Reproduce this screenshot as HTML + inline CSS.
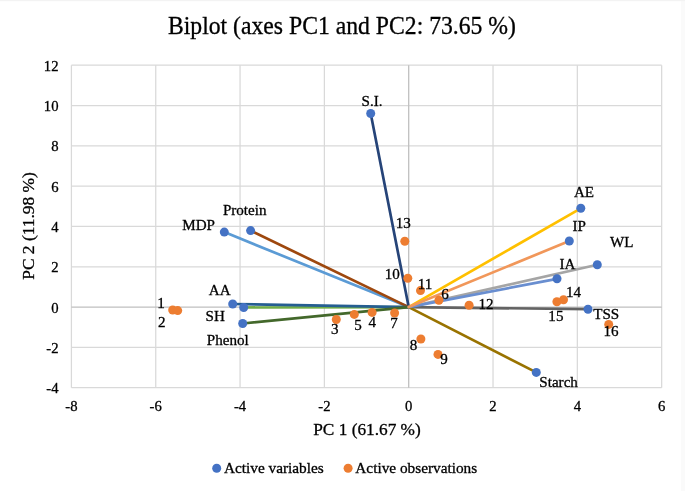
<!DOCTYPE html>
<html><head><meta charset="utf-8"><style>
html,body{margin:0;padding:0;background:#fff;}
body{width:685px;height:491px;overflow:hidden;}
svg{display:block;will-change:transform;}
text{font-family:"Liberation Serif",serif;fill:#000;stroke:#000;stroke-width:0.3px;}
</style></head><body>
<svg width="685" height="491" viewBox="0 0 685 491">

<g stroke="#d9d9d9" stroke-width="1.25"><line x1="71.42" y1="65.18" x2="71.42" y2="387.74"/><line x1="155.74" y1="65.18" x2="155.74" y2="387.74"/><line x1="240.06" y1="65.18" x2="240.06" y2="387.74"/><line x1="324.38" y1="65.18" x2="324.38" y2="387.74"/><line x1="493.02" y1="65.18" x2="493.02" y2="387.74"/><line x1="577.34" y1="65.18" x2="577.34" y2="387.74"/><line x1="661.66" y1="65.18" x2="661.66" y2="387.74"/><line x1="71.42" y1="65.18" x2="661.66" y2="65.18"/><line x1="71.42" y1="105.50" x2="661.66" y2="105.50"/><line x1="71.42" y1="145.82" x2="661.66" y2="145.82"/><line x1="71.42" y1="186.14" x2="661.66" y2="186.14"/><line x1="71.42" y1="226.46" x2="661.66" y2="226.46"/><line x1="71.42" y1="266.78" x2="661.66" y2="266.78"/><line x1="71.42" y1="347.42" x2="661.66" y2="347.42"/><line x1="71.42" y1="387.74" x2="661.66" y2="387.74"/></g>
<g stroke="#bfbfbf" stroke-width="1.3"><line x1="408.70" y1="65.18" x2="408.70" y2="387.74"/><line x1="71.42" y1="307.10" x2="661.66" y2="307.10"/></g>
<line x1="408.7" y1="307.1" x2="597.3" y2="264.7" stroke="#A5A5A5" stroke-width="2.7" stroke-linecap="round"/>
<line x1="408.7" y1="307.1" x2="580.8" y2="208.3" stroke="#FFC000" stroke-width="2.7" stroke-linecap="round"/>
<line x1="408.7" y1="307.1" x2="224.3" y2="232.1" stroke="#5B9BD5" stroke-width="2.7" stroke-linecap="round"/>
<line x1="408.7" y1="307.1" x2="243.7" y2="307.5" stroke="#70AD47" stroke-width="2.7" stroke-linecap="round"/>
<line x1="408.7" y1="307.1" x2="370.7" y2="113.5" stroke="#264478" stroke-width="2.7" stroke-linecap="round"/>
<line x1="408.7" y1="307.1" x2="250.6" y2="230.6" stroke="#9E480E" stroke-width="2.7" stroke-linecap="round"/>
<line x1="408.7" y1="307.1" x2="588.0" y2="309.2" stroke="#636363" stroke-width="2.7" stroke-linecap="round"/>
<line x1="408.7" y1="307.1" x2="536.3" y2="372.4" stroke="#997300" stroke-width="2.7" stroke-linecap="round"/>
<line x1="408.7" y1="307.1" x2="232.7" y2="304.0" stroke="#255E91" stroke-width="2.7" stroke-linecap="round"/>
<line x1="408.7" y1="307.1" x2="242.7" y2="323.5" stroke="#43682B" stroke-width="2.7" stroke-linecap="round"/>
<line x1="408.7" y1="307.1" x2="557.0" y2="278.8" stroke="#698ED0" stroke-width="2.7" stroke-linecap="round"/>
<line x1="408.7" y1="307.1" x2="569.3" y2="241.0" stroke="#F1975A" stroke-width="2.7" stroke-linecap="round"/>
<circle cx="172.7" cy="310.0" r="4.5" fill="#ED7D31"/>
<circle cx="177.7" cy="310.6" r="4.5" fill="#ED7D31"/>
<circle cx="336.3" cy="319.5" r="4.5" fill="#ED7D31"/>
<circle cx="372.1" cy="312.4" r="4.5" fill="#ED7D31"/>
<circle cx="354.3" cy="314.4" r="4.5" fill="#ED7D31"/>
<circle cx="438.9" cy="300.2" r="4.5" fill="#ED7D31"/>
<circle cx="394.6" cy="313.0" r="4.5" fill="#ED7D31"/>
<circle cx="420.9" cy="339.0" r="4.5" fill="#ED7D31"/>
<circle cx="438.0" cy="354.4" r="4.5" fill="#ED7D31"/>
<circle cx="407.8" cy="278.3" r="4.5" fill="#ED7D31"/>
<circle cx="420.5" cy="290.6" r="4.5" fill="#ED7D31"/>
<circle cx="469.1" cy="305.2" r="4.5" fill="#ED7D31"/>
<circle cx="404.8" cy="241.3" r="4.5" fill="#ED7D31"/>
<circle cx="563.5" cy="299.8" r="4.5" fill="#ED7D31"/>
<circle cx="556.9" cy="301.8" r="4.5" fill="#ED7D31"/>
<circle cx="608.7" cy="324.4" r="4.5" fill="#ED7D31"/>
<circle cx="597.3" cy="264.7" r="4.5" fill="#4472C4"/>
<circle cx="580.8" cy="208.3" r="4.5" fill="#4472C4"/>
<circle cx="224.3" cy="232.1" r="4.5" fill="#4472C4"/>
<circle cx="243.7" cy="307.5" r="4.5" fill="#4472C4"/>
<circle cx="370.7" cy="113.5" r="4.5" fill="#4472C4"/>
<circle cx="250.6" cy="230.6" r="4.5" fill="#4472C4"/>
<circle cx="588.0" cy="309.2" r="4.5" fill="#4472C4"/>
<circle cx="536.3" cy="372.4" r="4.5" fill="#4472C4"/>
<circle cx="232.7" cy="304.0" r="4.5" fill="#4472C4"/>
<circle cx="242.7" cy="323.5" r="4.5" fill="#4472C4"/>
<circle cx="557.0" cy="278.8" r="4.5" fill="#4472C4"/>
<circle cx="569.3" cy="241.0" r="4.5" fill="#4472C4"/>
<text x="372.0" y="105.5" font-size="15.1" text-anchor="middle">S.I.</text>
<text x="198.6" y="230.0" font-size="15.1" text-anchor="middle">MDP</text>
<text x="244.7" y="214.6" font-size="15.1" text-anchor="middle">Protein</text>
<text x="219.7" y="294.8" font-size="15.1" text-anchor="middle">AA</text>
<text x="215.2" y="320.6" font-size="15.1" text-anchor="middle">SH</text>
<text x="227.8" y="344.8" font-size="15.1" text-anchor="middle">Phenol</text>
<text x="584.0" y="197.2" font-size="15.1" text-anchor="middle">AE</text>
<text x="579.1" y="231.0" font-size="15.1" text-anchor="middle">IP</text>
<text x="621.8" y="247.1" font-size="15.1" text-anchor="middle">WL</text>
<text x="567.5" y="269.2" font-size="15.1" text-anchor="middle">IA</text>
<text x="606.2" y="319.0" font-size="15.1" text-anchor="middle">TSS</text>
<text x="558.6" y="387.2" font-size="15.1" text-anchor="middle">Starch</text>
<text x="161.1" y="307.9" font-size="15.1" text-anchor="middle">1</text>
<text x="161.8" y="326.9" font-size="15.1" text-anchor="middle">2</text>
<text x="334.8" y="333.7" font-size="15.1" text-anchor="middle">3</text>
<text x="372.2" y="327.0" font-size="15.1" text-anchor="middle">4</text>
<text x="357.9" y="329.6" font-size="15.1" text-anchor="middle">5</text>
<text x="445.1" y="298.7" font-size="15.1" text-anchor="middle">6</text>
<text x="393.9" y="327.6" font-size="15.1" text-anchor="middle">7</text>
<text x="413.6" y="350.1" font-size="15.1" text-anchor="middle">8</text>
<text x="444.1" y="364.1" font-size="15.1" text-anchor="middle">9</text>
<text x="392.2" y="279.1" font-size="15.1" text-anchor="middle">10</text>
<text x="425.1" y="289.3" font-size="15.1" text-anchor="middle">11</text>
<text x="486.0" y="308.8" font-size="15.1" text-anchor="middle">12</text>
<text x="403.3" y="227.8" font-size="15.1" text-anchor="middle">13</text>
<text x="573.6" y="296.7" font-size="15.1" text-anchor="middle">14</text>
<text x="555.9" y="320.8" font-size="15.1" text-anchor="middle">15</text>
<text x="611.0" y="335.5" font-size="15.1" text-anchor="middle">16</text>
<text x="58.5" y="70.6" font-size="14.7" text-anchor="end">12</text>
<text x="58.5" y="110.9" font-size="14.7" text-anchor="end">10</text>
<text x="58.5" y="151.2" font-size="14.7" text-anchor="end">8</text>
<text x="58.5" y="191.5" font-size="14.7" text-anchor="end">6</text>
<text x="58.5" y="231.9" font-size="14.7" text-anchor="end">4</text>
<text x="58.5" y="272.2" font-size="14.7" text-anchor="end">2</text>
<text x="58.5" y="312.5" font-size="14.7" text-anchor="end">0</text>
<text x="58.5" y="352.8" font-size="14.7" text-anchor="end">-2</text>
<text x="58.5" y="393.1" font-size="14.7" text-anchor="end">-4</text>
<text x="71.4" y="411.4" font-size="14.7" text-anchor="middle">-8</text>
<text x="155.7" y="411.4" font-size="14.7" text-anchor="middle">-6</text>
<text x="240.1" y="411.4" font-size="14.7" text-anchor="middle">-4</text>
<text x="324.4" y="411.4" font-size="14.7" text-anchor="middle">-2</text>
<text x="408.7" y="411.4" font-size="14.7" text-anchor="middle">0</text>
<text x="493.0" y="411.4" font-size="14.7" text-anchor="middle">2</text>
<text x="577.3" y="411.4" font-size="14.7" text-anchor="middle">4</text>
<text x="661.7" y="411.4" font-size="14.7" text-anchor="middle">6</text>
<text x="367" y="435.3" font-size="17.3" text-anchor="middle">PC 1 (61.67 %)</text>
<text transform="translate(33.9,226.0) rotate(-90)" x="0" y="0" font-size="17.4" text-anchor="middle">PC 2 (11.98 %)</text>
<text x="342" y="33.8" font-size="23.7" text-anchor="middle" transform="translate(0,33.8) scale(1,1.02) translate(0,-33.8)">Biplot (axes PC1 and PC2: 73.65 %)</text>
<circle cx="216.7" cy="468.3" r="4.5" fill="#4472C4"/><text x="223.9" y="473" font-size="15.3">Active variables</text>
<circle cx="348.1" cy="468.3" r="4.5" fill="#ED7D31"/><text x="355.3" y="473" font-size="15.3">Active observations</text>
<rect x="681" y="0" width="4" height="491" fill="#fafafa"/><rect x="0" y="0" width="685" height="1.2" fill="#f3f3f3"/>
</svg></body></html>
